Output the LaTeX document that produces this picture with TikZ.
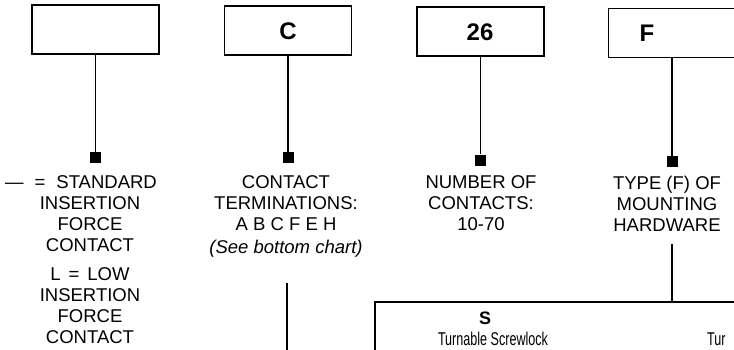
\documentclass[tikz,border=0pt]{standalone}
\usepackage{fontspec}
\setmainfont{Liberation Sans}
\begin{document}
\begin{tikzpicture}[x=1pt,y=-1pt,
  codebox/.style={draw, line width=1.5pt, minimum width=127pt, minimum height=49pt, inner sep=0pt},
  codetext/.style={inner sep=0pt, font=\fontsize{24}{24}\selectfont\bfseries},
  pin/.style={fill=black, minimum size=11pt, inner sep=0pt},
  conn/.style={line width=1.3pt},
  lbl/.style={align=center, anchor=north, inner sep=0pt, font=\fontsize{18.5}{21}\selectfont},
  small/.style={inner sep=0pt, font=\fontsize{18.5}{18.5}\selectfont},
]
\useasboundingbox (0,0) rectangle (734,349);
\clip (0,0) rectangle (734,349);

% code boxes
\node[codebox] (b1) at (95.5,29.5) {};
\node[codebox] (b2) at (288,30.5) {};
\node[codebox] (b3) at (480.5,31.5) {};
\node[codebox] (b4) at (672,33) {};
\node[codetext] (t2) at (288,31) {C};
\node[codetext] (t3) at (480,32) {26};
\node[codetext] (t4) at (647,33.5) {F};

% pins
\node[pin] (sq1) at (95.5,157.5) {};
\node[pin] (sq2) at (288,157.5) {};
\node[pin] (sq3) at (480.5,160) {};
\node[pin] (sq4) at (672,161.5) {};

\draw[conn] (b1.south) -- (sq1.north);
\draw[conn] (b2.south) -- (sq2.north);
\draw[conn] (b3.south) -- (sq3.north);
\draw[conn] (b4.south) -- (sq4.north);

% labels
\node[lbl] (l1a) at (90,175.5) {\hspace*{-18pt}—\hspace{11pt}=\hspace{11pt}STANDARD\\INSERTION\\FORCE\\CONTACT};
\node[lbl] (l1b) at (90,267.5) {L\hspace{8pt}=\hspace{8pt}LOW\\INSERTION\\FORCE\\CONTACT};
\node[lbl] (l2) at (286,175.5) {CONTACT\\TERMINATIONS:\\A B C F E H\\[2pt]\textit{(See bottom chart)}};
\node[lbl] (l3) at (481,175.5) {NUMBER OF\\CONTACTS:\\10-70};
\node[lbl] (l4) at (667,175.5) {TYPE (F) OF\\MOUNTING\\HARDWARE};

% line from contact terminations to bottom chart
\coordinate (c2top) at (287,283);
\coordinate (c2bot) at (287,352);
\draw[conn] (c2top) -- (c2bot);

% mounting hardware chart
\node[draw, line width=1.5pt, minimum width=425pt, minimum height=118pt, inner sep=0pt] (big) at (587.5,361) {};
\coordinate (m4) at (672,244);
\draw[conn] (m4) -- (m4 |- big.north);

\node[inner sep=0pt, font=\fontsize{18}{18}\selectfont\bfseries] (s1) at (485,318) {S};
\node[small] (s1t) at (493,339) {\scalebox{0.68}[1]{Turnable Screwlock}};
\node[small, anchor=west] (s2t) at (707,339) {\scalebox{0.68}[1]{Tur}};
\end{tikzpicture}
\end{document}
